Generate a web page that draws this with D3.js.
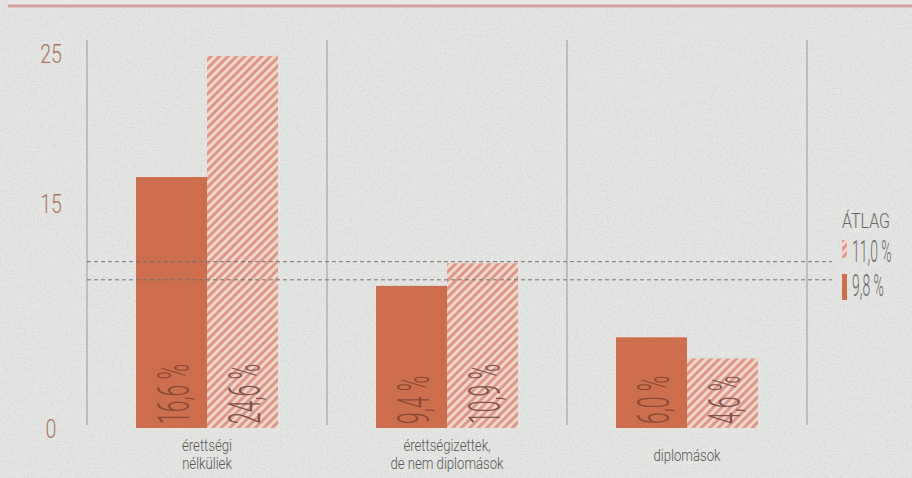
<!DOCTYPE html>
<html>
<head>
<meta charset="utf-8">
<script src="https://cdn.jsdelivr.net/npm/d3@7"></script>
<style>
  body { margin: 0; background: #e4e4e2; }
  svg { display: block; }
</style>
</head>
<body>
<script>
const categories = [['érettségi', 'nélküliek'], ['érettségizettek,', 'de nem diplomások'], ['diplomások']]
const solidValues = [16.6, 9.4, 6.0]
const hatchValues = [24.6, 10.9, 4.6]
const solidLabels = ['16,6 %', '9,4 %', '6,0 %']
const hatchLabels = ['24,6 %', '10,9 %', '4,6 %']
const yTicks = [0, 15, 25]
const averages = [{ key: 'hatch', value: 11.0, label: '11,0 %' }, { key: 'solid', value: 9.8, label: '9,8 %' }]
const legendTitle = 'ÁTLAG'

const width = 912
const height = 478
const solidColor = '#cd6f4f'

const data = categories.map((c, i) => ({
    name: i, lines: c,
    bars: [
        { key: 'solid', value: solidValues[i], label: solidLabels[i] },
        { key: 'hatch', value: hatchValues[i], label: hatchLabels[i] }
    ]
}))

const svg = d3.select('body')
    .append('svg')
    .attr('width', width)
    .attr('height', height)

const defs = svg.append('defs')
const pat = defs.append('pattern')
    .attr('id', 'hatch')
    .attr('patternUnits', 'userSpaceOnUse')
    .attr('width', 6)
    .attr('height', 6)
    .attr('patternTransform', 'rotate(45)')
pat.append('rect').attr('width', 6).attr('height', 6).attr('fill', '#f4d8cd')
pat.append('rect').attr('width', 3).attr('height', 6).attr('fill', '#db9788')

// sparse paper specks
const speck = defs.append('filter').attr('id', 'speck')
    .attr('x', 0).attr('y', 0).attr('width', '100%').attr('height', '100%')
speck.append('feTurbulence')
    .attr('type', 'fractalNoise')
    .attr('baseFrequency', 0.7)
    .attr('numOctaves', 2)
    .attr('seed', 3)
speck.append('feColorMatrix')
    .attr('type', 'matrix')
    .attr('values', '0 0 0 0 0.5  0 0 0 0 0.5  0 0 0 0 0.5  0 0 0 -26 10.5')

svg.append('rect').attr('width', width).attr('height', height).attr('fill', '#e4e4e2')
svg.append('rect').attr('width', width).attr('height', height)
    .attr('filter', 'url(#speck)').attr('opacity', 0.22)

// top rule
svg.append('rect').attr('x', 8).attr('width', width).attr('height', 4).attr('fill', '#e9e7e3')
svg.append('line')
    .attr('x1', 8).attr('x2', width)
    .attr('y1', 6).attr('y2', 6)
    .attr('stroke', '#d59f9c')
    .attr('stroke-width', 3)

const x = d3.scaleBand()
    .domain(data.map(d => d.name))
    .range([87, 807])

const xInner = d3.scaleBand()
    .domain(['solid', 'hatch'])
    .range([49, x.bandwidth() - 49])

const y = d3.scaleLinear()
    .domain([0, 25])
    .range([428, 50])

// vertical separators
svg.selectAll('.sep')
    .data([...data.map(d => x(d.name)), 807])
    .join('line')
    .attr('x1', d => d).attr('x2', d => d)
    .attr('y1', 40).attr('y2', 425)
    .attr('stroke', '#9a9a9a')
    .attr('stroke-width', 1)

// y tick labels
svg.selectAll('.tick')
    .data(yTicks)
    .join('text')
    .attr('transform', d => `translate(51, ${y(d) + (d === 0 ? 10 : d === 15 ? 12 : 13)}) scale(0.78, 1)`)
    .attr('text-anchor', 'middle')
    .style('font-family', 'Roboto')
    .style('font-weight', 300)
    .style('font-size', '25px')
    .style('fill', '#a8735d')
    .text(d => d)

// bars
const groups = svg.selectAll('.group')
    .data(data)
    .join('g')
    .attr('transform', d => `translate(${x(d.name)}, 0)`)

groups.selectAll('rect')
    .data(d => d.bars)
    .join('rect')
    .attr('x', d => xInner(d.key))
    .attr('y', d => y(d.value))
    .attr('width', xInner.bandwidth())
    .attr('height', d => y(0) - y(d.value))
    .attr('fill', d => d.key === 'solid' ? solidColor : 'url(#hatch)')

groups.selectAll('.val')
    .data(d => d.bars)
    .join('text')
    .attr('transform', d => `translate(${xInner(d.key) + xInner.bandwidth() / 2 + 1}, 424) rotate(-90) scale(0.47, 1)`)
    .attr('dy', '0.36em')
    .style('font-family', 'Roboto')
    .style('font-weight', 300)
    .style('font-size', '45px')
    .style('fill', d => d.key === 'solid' ? '#8a4734' : '#7d5249')
    .text(d => d.label)

// category labels, one text per line
groups.selectAll('.cat')
    .data(d => d.lines.map((l, i) => ({ l, i, n: d.lines.length })))
    .join('text')
    .attr('transform', d => `translate(${x.bandwidth() / 2}, ${d.n === 1 ? 461 : 451 + d.i * 18}) scale(0.82, 1)`)
    .attr('text-anchor', 'middle')
    .style('font-family', 'Roboto')
    .style('font-weight', 300)
    .style('font-size', '16px')
    .style('fill', '#555')
    .text(d => d.l)

// average dashed lines
svg.selectAll('.avg')
    .data(averages)
    .join('line')
    .attr('x1', 87).attr('x2', 832)
    .attr('y1', d => y(d.value)).attr('y2', d => y(d.value))
    .attr('stroke', '#6f6f6f')
    .attr('stroke-width', 1)
    .attr('stroke-dasharray', '4,3')

// legend
svg.append('text')
    .attr('transform', 'translate(866, 228) scale(0.8, 1)')
    .attr('text-anchor', 'middle')
    .style('font-family', 'Roboto')
    .style('font-weight', 300)
    .style('font-size', '20px')
    .style('fill', '#666')
    .text(legendTitle)

const leg = svg.selectAll('.leg')
    .data(averages)
    .join('g')
    .attr('transform', (d, i) => `translate(842, ${239 + i * 34})`)

leg.append('rect')
    .attr('y', 1)
    .attr('width', 5)
    .attr('height', (d, i) => i === 0 ? 18 : 26)
    .attr('fill', d => d.key === 'solid' ? solidColor : 'url(#hatch)')

leg.append('text')
    .attr('transform', 'translate(10, 23) scale(0.45, 1)')
    .style('font-family', 'Roboto')
    .style('font-weight', 300)
    .style('font-size', '31px')
    .style('fill', '#6a6a6a')
    .text(d => d.label)
</script>
</body>
</html>
